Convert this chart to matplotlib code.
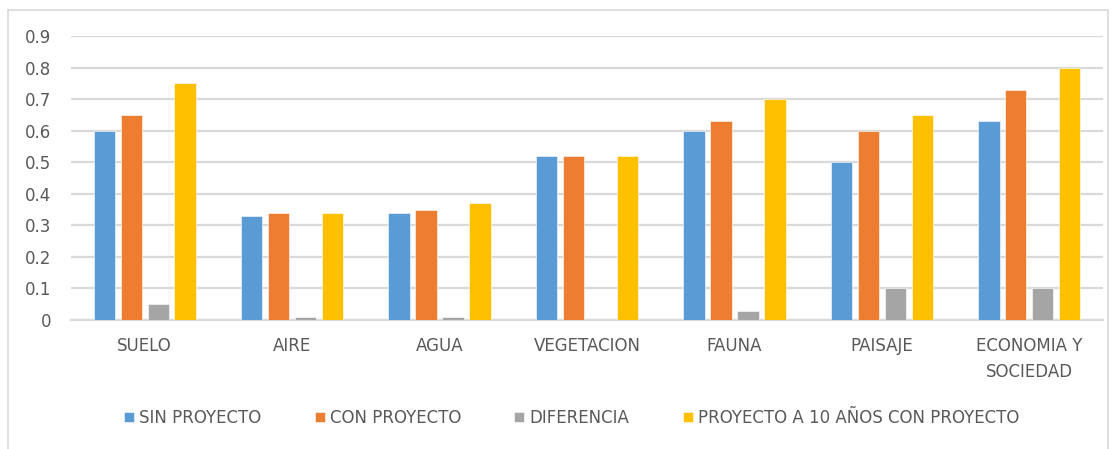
import numpy as np
import matplotlib.pyplot as plt
from matplotlib.patches import Rectangle

categories = ["SUELO", "AIRE", "AGUA", "VEGETACION", "FAUNA", "PAISAJE", "ECONOMIA Y\nSOCIEDAD"]
sin_proyecto = [0.60, 0.33, 0.34, 0.52, 0.60, 0.50, 0.63]
con_proyecto = [0.65, 0.34, 0.35, 0.52, 0.63, 0.60, 0.73]
diferencia = [0.05, 0.01, 0.01, 0.00, 0.03, 0.10, 0.10]
proyecto_10 = [0.75, 0.34, 0.37, 0.52, 0.70, 0.65, 0.80]

series = [
    ("SIN PROYECTO", sin_proyecto, "#5b9bd5"),
    ("CON PROYECTO", con_proyecto, "#ed7d31"),
    ("DIFERENCIA", diferencia, "#a5a5a5"),
    ("PROYECTO A 10 AÑOS CON PROYECTO", proyecto_10, "#ffc000"),
]

plt.rcParams['font.family'] = ['DejaVu Sans']
text_color = "#595959"

fig = plt.figure(figsize=(11.14, 4.49), dpi=100)
ax = fig.add_axes([71 / 1114, 1 - 320 / 449, 1032 / 1114, 284 / 449])

# outer chart border
fig.patches.append(Rectangle((8 / 1114, -0.05), 1100 / 1114, 1 - 10 / 449 + 0.05,
                             transform=fig.transFigure, fill=False,
                             edgecolor="#d9d9d9", linewidth=1.2))

x = np.arange(len(categories))
pitch = 0.183
width = 0.145
for i, (name, vals, color) in enumerate(series):
    ax.bar(x + (i - 1.5) * pitch, vals, width, color=color, label=name,
           edgecolor="white", linewidth=0.4, zorder=3)

ax.set_xlim(-0.5, len(categories) - 0.5)
ax.set_ylim(0, 0.9)
ax.set_yticks(np.arange(0, 0.91, 0.1))
ax.set_yticklabels(["0"] + [f"{v:.1f}" for v in np.arange(0.1, 0.91, 0.1)])
ax.set_xticks(x)
ax.set_xticklabels(categories, linespacing=1.6)
ax.grid(axis="y", color="#d9d9d9", linewidth=1.6, zorder=0)
for s in ["top", "right", "left"]:
    ax.spines[s].set_visible(False)
ax.spines["bottom"].set_color("#d9d9d9")
ax.spines["bottom"].set_linewidth(1.6)
ax.tick_params(axis="both", length=0, colors=text_color, labelsize=12)
ax.tick_params(axis="y", pad=14)
ax.tick_params(axis="x", pad=12)

ax.legend(loc="center", bbox_to_anchor=(0.485, -0.345), ncol=4, frameon=False,
          fontsize=12, labelcolor=text_color, handlelength=0.6, handleheight=0.6,
          handletextpad=0.3, columnspacing=3.2)

fig.savefig("out.png", dpi=100)
